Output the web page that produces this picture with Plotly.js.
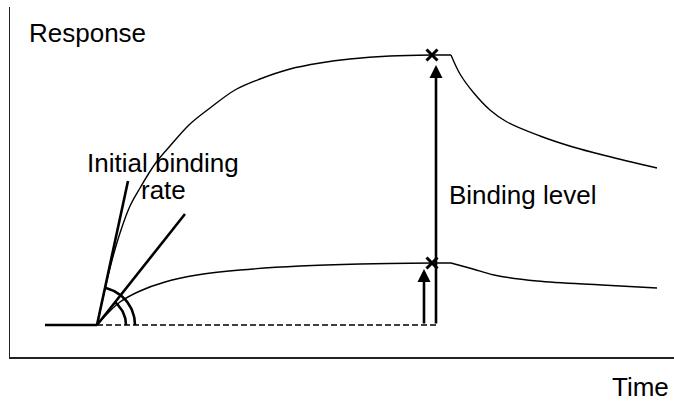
<!DOCTYPE html>
<html>
<head>
<meta charset="utf-8">
<script src="https://cdn.plot.ly/plotly-3.0.1.min.js"></script>
<style>
  body { margin: 0; background: #fff; }
  #plot { width: 674px; height: 402px; }
</style>
</head>
<body>
<div id="plot"></div>
<script>
// Sensorgram sketch: time and response in arbitrary units

// flat baseline before injection
var baseTime = [35, 87];
var baseResp = [32, 32];

// high-affinity curve: association, then dissociation
var upperOnTime = [87, 94, 101, 110, 120, 130, 145, 160, 180, 200, 225, 250, 280, 310, 340, 380, 422, 441];
var upperOnResp = [32, 64, 93, 124, 151, 169, 193, 211, 233, 249, 267, 278, 288, 294, 298, 301, 302, 302];
var upperOffTime = [441, 450, 463, 480, 497, 530, 563, 597, 647];
var upperOffResp = [302, 283, 265, 247, 235, 221, 210, 201, 189];

// low-affinity curve
var lowerOnTime = [87, 97, 110, 130, 155, 187, 230, 290, 350, 422, 441];
var lowerOnResp = [32, 43, 55, 66, 75, 82, 87, 91, 93, 94, 94];
var lowerOffTime = [441, 463, 484, 527, 592, 647];
var lowerOffResp = [94, 88, 82, 76, 72, 69];

// initial-rate tangents (start, end)
var steepTime = [87, 118];
var steepResp = [32, 176];
var shallowTime = [87, 175];
var shallowResp = [32, 143];

// binding level markers
var markTime = [422, 422];
var markResp = [302, 94];

// dashed reference level
var refTime = [87, 427];
var refResp = [32, 32];

// arc between baseline and a tangent line
function arc(tx, ty, radius) {
    var x0 = tx[0], y0 = ty[0];
    var end = Math.atan2(ty[1] - y0, tx[1] - x0);
    var xs = [], ys = [];
    for (var i = 0; i <= 30; i++) {
        var a = end * i / 30;
        xs.push(x0 + radius * Math.cos(a));
        ys.push(y0 + radius * Math.sin(a));
    }
    return {x: xs, y: ys};
}
var outerArc = arc(steepTime, steepResp, 38);
var innerArc = arc(shallowTime, shallowResp, 29);

var thin = {color: "#000", width: 1.4, shape: "spline", smoothing: 1};
var thick = {color: "#000", width: 2.6};

var traces = [
    {x: baseTime, y: baseResp, mode: "lines", line: thick},
    {x: refTime, y: refResp, mode: "lines", line: {color: "#000", width: 1.3, dash: "6px,3px"}},
    {x: upperOnTime, y: upperOnResp, mode: "lines", line: thin},
    {x: upperOffTime, y: upperOffResp, mode: "lines", line: thin},
    {x: lowerOnTime, y: lowerOnResp, mode: "lines", line: thin},
    {x: lowerOffTime, y: lowerOffResp, mode: "lines", line: thin},
    {x: steepTime, y: steepResp, mode: "lines", line: thick},
    {x: shallowTime, y: shallowResp, mode: "lines", line: thick},
    {x: outerArc.x, y: outerArc.y, mode: "lines", line: thick},
    {x: innerArc.x, y: innerArc.y, mode: "lines", line: thick},
    {x: markTime, y: markResp, mode: "markers",
     marker: {symbol: "x-thin", size: 11, line: {color: "#000", width: 3}}}
];

var font = {family: "Liberation Sans, Arial, sans-serif", size: 26, color: "#000"};

var layout = {
    width: 674,
    height: 402,
    margin: {l: 10, r: 0, t: 7, b: 45},
    showlegend: false,
    plot_bgcolor: "#fff",
    paper_bgcolor: "#fff",
    font: font,
    xaxis: {range: [0, 664], showline: true, linecolor: "#222", linewidth: 1.5,
            showgrid: false, zeroline: false, showticklabels: false, ticks: ""},
    yaxis: {range: [0, 350], showline: true, linecolor: "#222", linewidth: 1.5,
            showgrid: false, zeroline: false, showticklabels: false, ticks: ""},
    annotations: [
        // arrows for the two binding levels
        {x: 426, y: 292, ax: 426, ay: 32, xref: "x", yref: "y", axref: "x", ayref: "y",
         text: "", showarrow: true, arrowhead: 2, arrowsize: 1, arrowwidth: 2.6, arrowcolor: "#000"},
        {x: 414, y: 88, ax: 414, ay: 32, xref: "x", yref: "y", axref: "x", ayref: "y",
         text: "", showarrow: true, arrowhead: 2, arrowsize: 1, arrowwidth: 2.6, arrowcolor: "#000"},
        {x: 17, y: 324, xref: "x", yref: "y", text: "Response", showarrow: false, xanchor: "left"},
        {x: 153, y: 194, xref: "x", yref: "y", text: "Initial binding", showarrow: false},
        {x: 153, y: 167, xref: "x", yref: "y", text: "rate", showarrow: false},
        {x: 437, y: 162, xref: "x", yref: "y", text: "Binding level", showarrow: false, xanchor: "left"},
        {x: 0.995, y: -0.135, xref: "paper", yref: "paper", text: "Time", showarrow: false, xanchor: "right"}
    ]
};

Plotly.newPlot("plot", traces, layout, {staticPlot: true});
</script>
</body>
</html>
